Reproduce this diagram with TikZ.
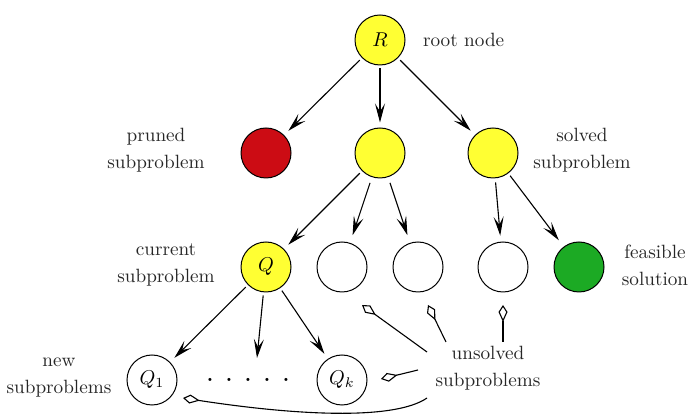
\documentclass[tikz,border=0pt]{standalone}
\usetikzlibrary{arrows.meta}
\definecolor{ylw}{RGB}{255,255,51}
\definecolor{prred}{RGB}{204,12,20}
\definecolor{fgreen}{RGB}{28,170,36}
\begin{document}
\begin{tikzpicture}[x=0.5pt,y=-0.5pt,
  nd/.style={circle,draw,line width=0.5pt,minimum size=25pt,inner sep=0pt},
  lbl/.style={align=center,font=\fontsize{9.6}{13.5}\selectfont,text=black!85},
  tedge/.style={line width=0.55pt,-{Stealth[length=9.5pt,width=5pt,inset=4pt]},shorten <=1.5pt,shorten >=3pt},
  uedge/.style={line width=0.55pt,-{Kite[open,length=8.5pt,width=4.5pt,inset=5pt]}}]
\useasboundingbox (0,0) rectangle (691,416);
% nodes
\node[nd,fill=ylw] (R) at (380,40) {$R$};
\node[nd,fill=prred] (p) at (266,153) {};
\node[nd,fill=ylw] (m) at (380,153) {};
\node[nd,fill=ylw] (s) at (493,153) {};
\node[nd,fill=ylw] (Q) at (266,267) {$Q$};
\node[nd] (e1) at (342,267) {};
\node[nd] (e2) at (418,267) {};
\node[nd] (e3) at (503,267) {};
\node[nd,fill=fgreen] (g) at (579,267) {};
\node[nd] (Q1) at (152,380) {$Q_1$};
\node[nd] (Qk) at (342,380) {$Q_k$};
\node[anchor=base,inner sep=0pt,font=\bfseries] (dots) at (248,382) {.\hspace{6.3pt}.\hspace{6.3pt}.\hspace{6.3pt}.\hspace{6.3pt}.};
% labels
\node[lbl,anchor=west] (lroot) at (416,40) {root node};
\node[lbl] (lpr) at (156,150) {pruned\\subproblem};
\node[lbl] (lsol) at (582,150) {solved\\subproblem};
\node[lbl] (lcur) at (166,265) {current\\subproblem};
\node[lbl] (lfea) at (655,265) {feasible\\solution};
\node[lbl] (lnew) at (59,378) {new\\subproblems};
\node[lbl] (u) at (488,368) {unsolved\\subproblems};
% tree edges
\draw[tedge] (R) -- (p);
\draw[tedge,shorten >=2.5pt] (R) -- (m);
\draw[tedge] (R) -- (s);
\draw[tedge] (m) -- (Q);
\draw[tedge,shorten <=3pt,shorten >=4pt] (m) -- (e1);
\draw[tedge,shorten <=3pt,shorten >=4pt] (m) -- (e2);
\draw[tedge,shorten <=2pt,shorten >=3pt] (s) -- (e3);
\draw[tedge,shorten >=4pt] (s) -- (g);
\draw[tedge] (Q) -- (Q1);
\coordinate (dq) at (257,358);
\draw[tedge,shorten >=0pt] (Q) -- (dq);
\draw[tedge] (Q) -- (Qk);
% unsolved pointers
\coordinate (u1) at (427,352); \coordinate (t1) at (362,305);
\coordinate (u2) at (446,342); \coordinate (t2) at (428,305);
\coordinate (u3) at (503,342); \coordinate (t3) at (503,305);
\coordinate (u4) at (418,370); \coordinate (t4) at (381,379);
\coordinate (u5) at (427,398); \coordinate (t5) at (183,398);
\draw[uedge] (u1) -- (t1);
\draw[uedge] (u2) -- (t2);
\draw[uedge] (u3) -- (t3);
\draw[uedge] (u4) -- (t4);
\draw[uedge] (u5) .. controls (395,420) and (300,416) .. (t5);
\end{tikzpicture}
\end{document}
